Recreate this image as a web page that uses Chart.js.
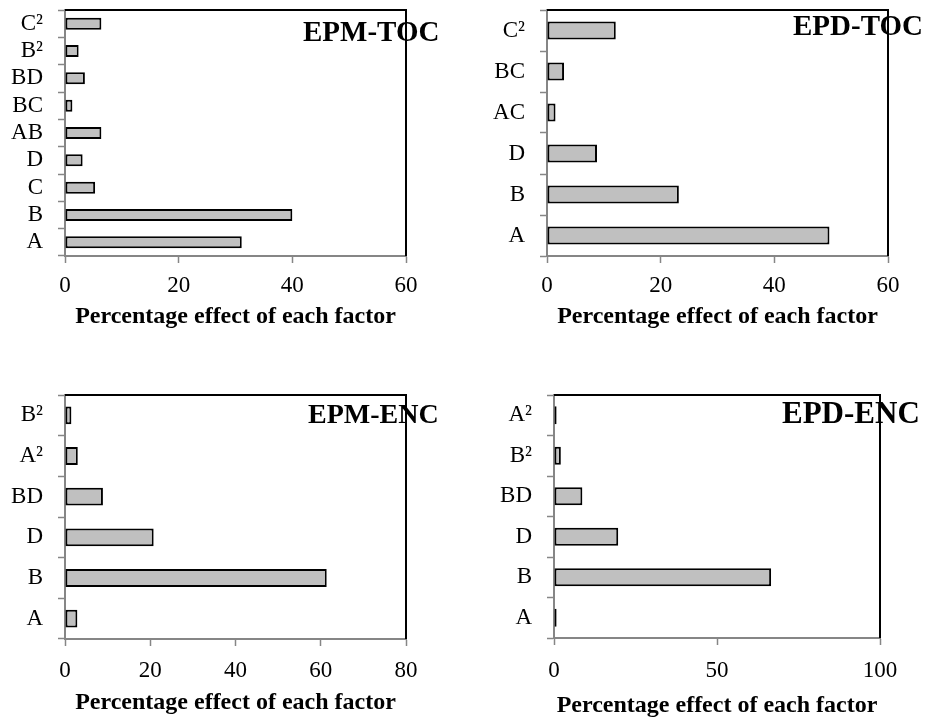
<!DOCTYPE html>
<html>
<head>
<meta charset="utf-8">
<script src="https://cdn.jsdelivr.net/npm/chart.js@4/dist/chart.umd.min.js"></script>
<style>
  html, body { margin: 0; padding: 0; background: #fff; }
  #page { position: relative; width: 925px; height: 718px; overflow: hidden; background: #fff; }
  #page canvas { position: absolute; }
</style>
</head>
<body>
<div id="page">
  <canvas id="epmToc" width="460" height="340" style="left:0;top:0"></canvas>
  <canvas id="epdToc" width="465" height="340" style="left:460px;top:0"></canvas>
  <canvas id="epmEnc" width="460" height="358" style="left:0;top:360px"></canvas>
  <canvas id="epdEnc" width="465" height="362" style="left:460px;top:360px"></canvas>
</div>
<script>
// Percentage effect of each model term, listed bottom-to-top
const epmTocFactors = ['A', 'B', 'C', 'D', 'AB', 'BC', 'BD', 'B²', 'C²'];
const epmTocEffects = [31.1, 40.0, 5.3, 3.1, 6.4, 1.3, 3.5, 2.4, 6.4];
const epmTocTicks = [0, 20, 40, 60];

const epdTocFactors = ['A', 'B', 'D', 'AC', 'BC', 'C²'];
const epdTocEffects = [49.7, 23.2, 8.8, 1.5, 3.0, 12.1];
const epdTocTicks = [0, 20, 40, 60];

const epmEncFactors = ['A', 'B', 'D', 'BD', 'A²', 'B²'];
const epmEncEffects = [2.9, 61.4, 20.8, 8.9, 3.0, 1.5];
const epmEncTicks = [0, 20, 40, 60, 80];

const epdEncFactors = ['A', 'B', 'D', 'BD', 'B²', 'A²'];
const epdEncEffects = [0.8, 66.6, 19.7, 8.7, 2.1, 0.8];
const epdEncTicks = [0, 50, 100];

const axisTitle = 'Percentage effect of each factor';

const SERIF = '"Liberation Serif", "Times New Roman", serif';
const AXIS_GREY = '#868686';
const BAR_FILL = '#c0c0c0';

// Panel name in the top-right corner plus the black top/right frame of the plot box
const panelFrame = {
  id: 'panelFrame',
  afterDraw(chart, args, opts) {
    const ctx = chart.ctx;
    const a = chart.chartArea;
    ctx.save();
    ctx.font = 'bold ' + opts.size + 'px ' + SERIF;
    ctx.fillStyle = '#000';
    ctx.textAlign = 'left';
    ctx.textBaseline = 'alphabetic';
    ctx.fillText(opts.text, a.right - opts.dx, a.top + opts.dy);
    ctx.strokeStyle = '#000';
    ctx.lineWidth = 2;
    ctx.beginPath();
    ctx.moveTo(a.left, a.top);
    ctx.lineTo(a.right, a.top);
    ctx.lineTo(a.right, a.bottom);
    ctx.stroke();
    ctx.restore();
  }
};

function effectChart(id, name, factors, effects, ticks, box) {
  const tickFont = { family: SERIF, size: 23 };
  const gridOpts = {
    drawOnChartArea: false,
    drawTicks: true,
    tickLength: 7,
    tickWidth: 1.5,
    tickColor: AXIS_GREY
  };
  return new Chart(document.getElementById(id), {
    type: 'bar',
    data: {
      labels: factors,
      datasets: [{
        data: effects,
        backgroundColor: BAR_FILL,
        borderColor: '#000',
        borderWidth: 2,
        borderSkipped: false,
        categoryPercentage: 0.44,
        barPercentage: 1
      }]
    },
    options: {
      indexAxis: 'y',
      responsive: false,
      animation: false,
      devicePixelRatio: 1,
      events: [],
      layout: { padding: { left: 0, top: box.top, right: box.right, bottom: box.bottom } },
      plugins: {
        legend: { display: false },
        tooltip: { enabled: false },
        panelFrame: { text: name, size: box.nameSize, dx: box.nameDx, dy: box.nameDy }
      },
      scales: {
        x: {
          type: 'linear',
          min: ticks[0],
          max: ticks[ticks.length - 1],
          ticks: { stepSize: ticks[1] - ticks[0], padding: box.tickPad, font: tickFont, color: '#000' },
          grid: gridOpts,
          border: { color: AXIS_GREY, width: 2 },
          title: {
            display: true,
            text: axisTitle,
            color: '#000',
            padding: 0,
            font: { family: SERIF, size: 24, weight: 'bold' }
          },
          afterFit(s) { s.height = box.xHeight; s.paddingLeft = 0; s.paddingRight = 0; }
        },
        y: {
          reverse: true,
          z: 1,
          ticks: { autoSkip: false, padding: 15, font: tickFont, color: '#000' },
          grid: Object.assign({ offset: true }, gridOpts),
          border: { color: AXIS_GREY, width: 2 },
          afterFit(s) { s.width = box.yWidth; s.paddingTop = 0; s.paddingBottom = 0; }
        }
      }
    },
    plugins: [panelFrame]
  });
}

effectChart('epmToc', 'EPM-TOC', epmTocFactors, epmTocEffects, epmTocTicks,
  { top: 10, right: 54, bottom: 9, yWidth: 65, xHeight: 75, tickPad: 9, nameSize: 29, nameDx: 103, nameDy: 31 });
effectChart('epdToc', 'EPD-TOC', epdTocFactors, epdTocEffects, epdTocTicks,
  { top: 10, right: 37, bottom: 9, yWidth: 87, xHeight: 75, tickPad: 9, nameSize: 29, nameDx: 95, nameDy: 25 });
effectChart('epmEnc', 'EPM-ENC', epmEncFactors, epmEncEffects, epmEncTicks,
  { top: 35, right: 54, bottom: 1, yWidth: 65, xHeight: 78, tickPad: 11, nameSize: 28, nameDx: 98, nameDy: 28 });
effectChart('epdEnc', 'EPD-ENC', epdEncFactors, epdEncEffects, epdEncTicks,
  { top: 35, right: 45, bottom: 2, yWidth: 94, xHeight: 82, tickPad: 12, nameSize: 31, nameDx: 98, nameDy: 28 });
</script>
</body>
</html>
